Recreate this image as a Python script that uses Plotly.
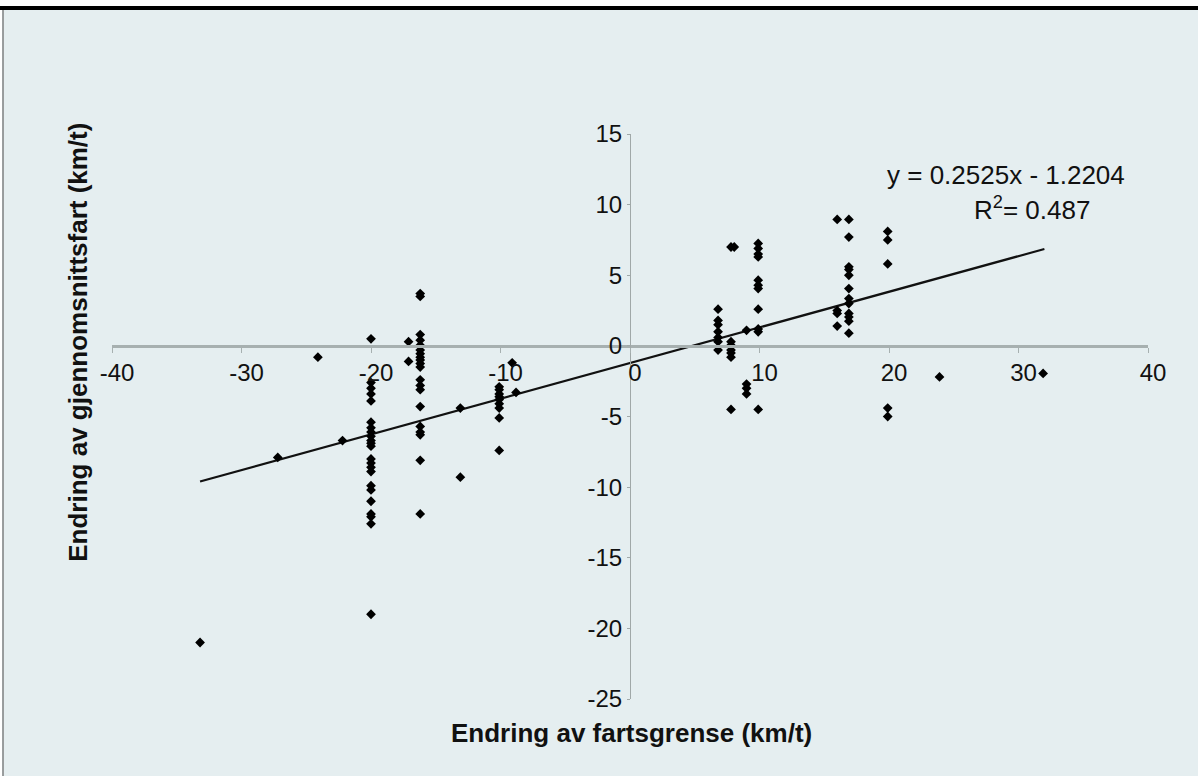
import plotly.graph_objects as go

# ---- data ----
x_vals = ([-33.2, -27.2, -24.1, -22.2]
          + [-20.0] * 23
          + [-17.1] * 2
          + [-16.2] * 20
          + [-13.1] * 2
          + [-10.1] * 9
          + [-9.1, -8.8]
          + [6.8] * 7
          + [7.8] * 7
          + [8.05]
          + [9.0] * 4
          + [9.9] * 11
          + [16.0] * 4
          + [16.9] * 12
          + [19.9] * 5
          + [23.9, 31.9])
y_vals = ([-21.0, -7.9, -0.8, -6.7]
          + [0.5, -2.6, -3.0, -3.4, -3.9, -5.4, -5.8, -6.1, -6.4, -6.7, -6.9, -7.1,
             -8.0, -8.3, -8.6, -8.9, -9.9, -10.2, -11.0, -11.9, -12.1, -12.6, -19.0]
          + [0.3, -1.1]
          + [3.7, 3.5, 0.8, 0.4, 0.05, -0.3, -0.55, -0.8, -1.0, -1.25, -1.5, -2.4,
             -2.8, -3.1, -4.3, -5.7, -6.1, -6.3, -8.1, -11.9]
          + [-4.4, -9.3]
          + [-2.9, -3.1, -3.4, -3.6, -3.8, -4.1, -4.4, -5.1, -7.4]
          + [-1.2, -3.3]
          + [2.6, 1.8, 1.5, 1.0, 0.6, 0.3, -0.3]
          + [7.0, 0.3, 0.05, -0.3, -0.5, -0.8, -4.5]
          + [7.0]
          + [1.1, -2.7, -3.0, -3.4]
          + [7.25, 6.9, 6.5, 6.3, 4.65, 4.3, 4.06, 2.6, 1.2, 1.0, -4.5]
          + [8.95, 2.5, 2.3, 1.4]
          + [8.95, 7.7, 5.6, 5.4, 5.0, 4.06, 3.35, 3.0, 2.3, 2.05, 1.75, 0.9]
          + [8.1, 7.5, 5.8, -4.4, -5.0]
          + [-2.2, -1.95])

trend_slope = 0.2525
trend_intercept = -1.2204
trend_x = [-33.2, 32.0]
trend_y = [trend_slope * v + trend_intercept for v in trend_x]

x_ticks = [-40, -30, -20, -10, 0, 10, 20, 30, 40]
y_ticks = [-25, -20, -15, -10, -5, 0, 5, 10, 15]

equation_text = "y = 0.2525x - 1.2204"
r2_text = "R<sup>2</sup>= 0.487"
x_title = "Endring av fartsgrense (km/t)"
y_title = "Endring av gjennomsnittsfart (km/t)"

BG = "#e5eef0"
FONT = "Liberation Sans, Arial, sans-serif"

fig = go.Figure()
fig.add_trace(go.Scatter(x=trend_x, y=trend_y, mode="lines",
                         line=dict(color="#111111", width=2.2),
                         hoverinfo="skip", showlegend=False))
fig.add_trace(go.Scatter(x=x_vals, y=y_vals, mode="markers",
                         marker=dict(symbol="diamond", size=7.5, color="#000000"),
                         showlegend=False))

fig.update_layout(
    width=1198, height=776,
    margin=dict(l=112, r=50, t=134, b=77),
    paper_bgcolor=BG, plot_bgcolor=BG,
    font=dict(family=FONT, size=24, color="#111111"),
    xaxis=dict(range=[-40, 40], tickvals=x_ticks, ticktext=[str(v) for v in x_ticks],
               anchor="free", position=0.625, showline=True, linecolor="#a7b0b0",
               linewidth=2.5, ticks="outside", ticklen=5, tickcolor="#a7b0b0",
               ticklabelshift=5,
               showgrid=False, zeroline=False, tickfont=dict(size=24)),
    yaxis=dict(range=[-25, 15], tickvals=y_ticks, ticktext=[str(v) for v in y_ticks],
               anchor="free", position=0.5, showline=True, linecolor="#a0a8a8",
               linewidth=1.2, ticks="outside", ticklen=3, tickcolor="#a0a8a8",
               showgrid=False, zeroline=False, tickfont=dict(size=24)),
    annotations=[
        dict(x=19.7, y=12.1, xref="x", yref="y", text=equation_text, showarrow=False,
             xanchor="left", yanchor="middle", font=dict(size=26)),
        dict(x=26.4, y=9.75, xref="x", yref="y", text=r2_text, showarrow=False,
             xanchor="left", yanchor="middle", font=dict(size=26)),
        dict(x=0.501, y=-0.060, xref="paper", yref="paper", text="<b>" + x_title + "</b>",
             showarrow=False, xanchor="center", yanchor="middle", font=dict(size=26)),
        dict(x=-0.033, y=0.632, xref="paper", yref="paper", text="<b>" + y_title + "</b>",
             showarrow=False, xanchor="center", yanchor="middle", textangle=-90,
             font=dict(size=26)),
    ],
    shapes=[
        dict(type="rect", xref="paper", yref="paper", x0=-0.12, x1=1.06, y0=1.2265, y1=1.25,
             fillcolor="#ffffff", line=dict(width=0), layer="above"),
        dict(type="rect", xref="paper", yref="paper", x0=-0.12, x1=1.06, y0=1.2195, y1=1.2265,
             fillcolor="#000000", line=dict(width=0), layer="above"),
        dict(type="rect", xref="paper", yref="paper", x0=-0.12, x1=-0.1062, y0=-0.15, y1=1.2195,
             fillcolor="#ffffff", line=dict(width=0), layer="above"),
        dict(type="line", xref="paper", yref="paper", x0=-0.1052, x1=-0.1052, y0=-0.15, y1=1.2195,
             line=dict(color="#666666", width=1.2), layer="above"),
    ],
)

fig.write_html("out.html")
